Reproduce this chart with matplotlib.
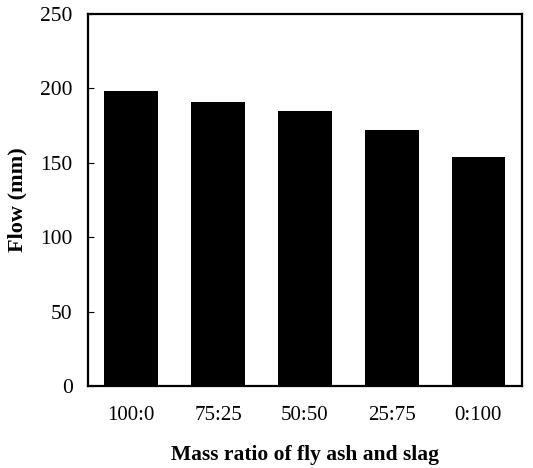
import matplotlib.pyplot as plt

ratios = ["100:0", "75:25", "50:50", "25:75", "0:100"]
flow = [198, 191, 185, 172, 154]

plt.rcParams["font.family"] = ["Liberation Serif", "DejaVu Serif"]

fig = plt.figure(figsize=(5.33, 4.68), dpi=100)
ax = fig.add_axes([0.165, 0.175, 0.814, 0.795])

ax.bar(range(len(ratios)), flow, width=0.62, color="black")

ax.set_xlim(-0.5, len(ratios) - 0.5)
ax.set_ylim(0, 250)
ax.set_yticks([0, 50, 100, 150, 200, 250])
ax.set_xticks(range(len(ratios)))
ax.set_xticklabels(ratios)
ax.tick_params(axis="y", direction="in", length=4, labelsize=15.5, pad=11)
ax.tick_params(axis="x", length=0, labelsize=15, pad=14)

for s in ax.spines.values():
    s.set_linewidth(1.6)

ax.set_ylabel("Flow (mm)", fontsize=16, fontweight="bold", labelpad=9)
ax.set_xlabel("Mass ratio of fly ash and slag", fontsize=15.5, fontweight="bold", labelpad=15)

fig.savefig("out.png", dpi=100)
